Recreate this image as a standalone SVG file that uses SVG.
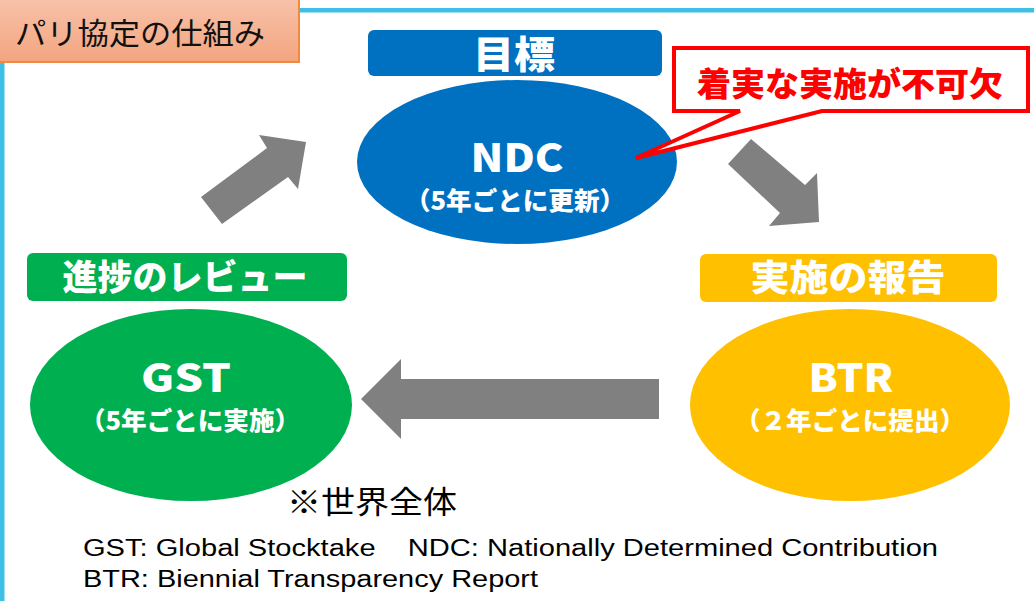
<svg xmlns="http://www.w3.org/2000/svg" width="1034" height="601" viewBox="0 0 1034 601">
<defs>
<linearGradient id="tg" x1="0" y1="0" x2="0" y2="1">
<stop offset="0" stop-color="#F8C2AA"/>
<stop offset="1" stop-color="#F3A57F"/>
</linearGradient>
</defs>
<style>
.jp{font-family:"Noto Sans CJK JP","Noto Sans",sans-serif}
.b{font-weight:900}
.w{fill:#FFFFFF}
.en{font-family:"Liberation Sans","Noto Sans",sans-serif;font-size:23px;fill:#000}
.arrow{fill:#808080}
</style>
<rect x="0" y="0" width="1034" height="601" fill="#FFFFFF"/>
<g id="frame">
<rect x="0" y="40" width="4.5" height="561" fill="#3EC0E6"/>
<rect x="295" y="8" width="739" height="4.5" fill="#3EC0E6"/>
</g>
<g id="title">
<rect x="-2" y="-2" width="301" height="64" fill="url(#tg)" stroke="#F08A40" stroke-width="2"/>
<text class="jp" x="15" y="44" font-size="30" fill="#111" textLength="250" lengthAdjust="spacingAndGlyphs">パリ協定の仕組み</text>
</g>
<g id="connectors">
<polygon class="arrow" points="201,197 267,148 259,135 306,142 298,189 288,177 222,224"/>
<polygon class="arrow" points="728,164 751,139 805,185 817,173 819,222 769,226 780,213"/>
<polygon class="arrow" points="361,399 401,359 401,379 659,379 659,419 401,419 401,439"/>
</g>
<g id="ndc">
<rect x="368" y="30" width="294" height="46" rx="6" fill="#0070C0"/>
<text class="jp b w" x="514" y="68" font-size="38" text-anchor="middle" textLength="82" lengthAdjust="spacingAndGlyphs">目標</text>
<ellipse cx="517" cy="162" rx="160" ry="82" fill="#0070C0"/>
<text class="jp b w" x="517" y="172" font-size="39" text-anchor="middle" textLength="93" lengthAdjust="spacingAndGlyphs">NDC</text>
<text class="jp b w" x="515" y="210" font-size="25" text-anchor="middle" textLength="220" lengthAdjust="spacingAndGlyphs">（5年ごとに更新）</text>
</g>
<g id="callout">
<path d="M674,48 H1028 V111 H822 L636,158 L740,111 H674 Z" fill="#FFFFFF" stroke="#FF0000" stroke-width="4" stroke-linejoin="miter"/>
<text class="jp b" x="850" y="96" font-size="33" fill="#FF0000" text-anchor="middle" textLength="306" lengthAdjust="spacingAndGlyphs">着実な実施が不可欠</text>
</g>
<g id="gst">
<rect x="27" y="253" width="320" height="48" rx="6" fill="#00B050"/>
<text class="jp b w" x="185" y="290" font-size="35" text-anchor="middle" textLength="245" lengthAdjust="spacingAndGlyphs">進捗のレビュー</text>
<ellipse cx="191" cy="405" rx="161" ry="96" fill="#00B050"/>
<text class="jp b w" x="186" y="392" font-size="39" text-anchor="middle" textLength="90" lengthAdjust="spacingAndGlyphs">GST</text>
<text class="jp b w" x="190" y="430" font-size="25" text-anchor="middle" textLength="220" lengthAdjust="spacingAndGlyphs">（5年ごとに実施）</text>
</g>
<g id="btr">
<rect x="700" y="254" width="297" height="48" rx="6" fill="#FFC000"/>
<text class="jp b w" x="848" y="291" font-size="36" text-anchor="middle" textLength="195" lengthAdjust="spacingAndGlyphs">実施の報告</text>
<ellipse cx="850" cy="405" rx="160" ry="96" fill="#FFC000"/>
<text class="jp b w" x="851" y="392" font-size="39" text-anchor="middle" textLength="85" lengthAdjust="spacingAndGlyphs">BTR</text>
<text class="jp b w" x="850" y="430" font-size="25" text-anchor="middle" textLength="230" lengthAdjust="spacingAndGlyphs">（２年ごとに提出）</text>
</g>
<g id="notes">
<text class="jp" x="287" y="513" font-size="31" fill="#000" textLength="170" lengthAdjust="spacingAndGlyphs">※世界全体</text>
<text class="en" x="83" y="556" textLength="855" lengthAdjust="spacingAndGlyphs" xml:space="preserve">GST: Global Stocktake    NDC: Nationally Determined Contribution</text>
<text class="en" x="83" y="587" textLength="455" lengthAdjust="spacingAndGlyphs">BTR: Biennial Transparency Report</text>
</g>
</svg>
